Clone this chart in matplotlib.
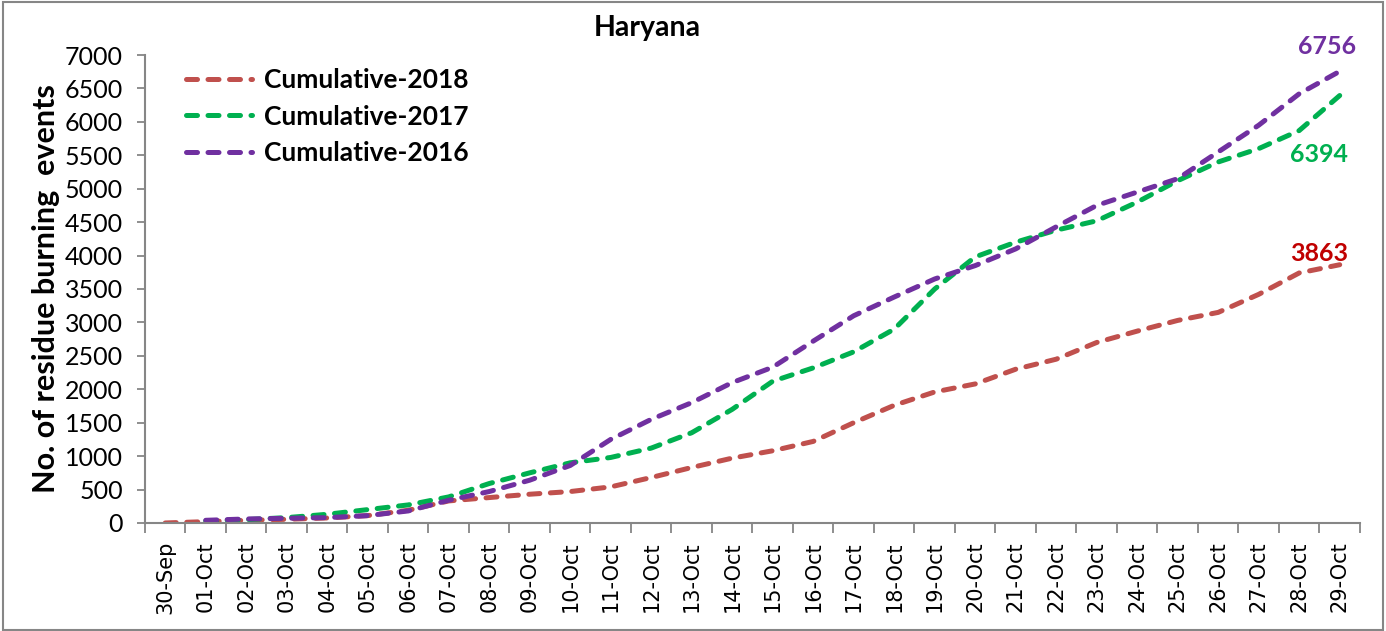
import numpy as np
import matplotlib.pyplot as plt
from matplotlib.patches import Rectangle

days = ['30-Sep'] + ['%02d-Oct' % d for d in range(1, 30)]

# cumulative residue burning events
cum_2018 = [0, 20, 40, 55, 75, 110, 190, 330, 380, 430, 470, 540, 680, 830, 970,
            1080, 1220, 1500, 1760, 1960, 2080, 2300, 2450, 2700, 2870, 3030, 3150,
            3420, 3740, 3863]
cum_2017 = [np.nan, 30, 50, 80, 130, 200, 270, 390, 590, 750, 900, 980, 1120, 1350,
            1700, 2120, 2320, 2560, 2900, 3500, 3980, 4200, 4380, 4520, 4800, 5120,
            5400, 5600, 5870, 6394]
cum_2016 = [np.nan, 40, 60, 70, 80, 110, 180, 340, 470, 640, 860, 1250, 1550, 1800,
            2100, 2330, 2720, 3100, 3380, 3650, 3850, 4100, 4430, 4750, 4950, 5150,
            5550, 5950, 6420, 6756]

c18, c17, c16 = '#C0504D', '#00B050', '#7030A0'

fig = plt.figure(figsize=(13.86, 6.31), dpi=100)
ax = fig.add_axes([0.1046, 0.1712, 0.8766, 0.7416])

x = np.arange(len(days))
dash = dict(linewidth=3.6, dashes=(2.2, 2.1), dash_capstyle='round', solid_capstyle='round')
ax.plot(x, cum_2018, color=c18, label='Cumulative-2018', **dash)
ax.plot(x, cum_2017, color=c17, label='Cumulative-2017', **dash)
ax.plot(x, cum_2016, color=c16, label='Cumulative-2016', **dash)

ax.set_xlim(-0.5, len(days) - 0.5)
ax.set_ylim(0, 7000)
ax.set_yticks(np.arange(0, 7001, 500))
ax.set_xticks(x)
ax.set_xticklabels(days, rotation=90, fontsize=15, family='DejaVu Sans')
ax.set_xticks(np.arange(-0.5, len(days)), minor=True)
ax.tick_params(axis='x', which='major', length=0, pad=13)
ax.tick_params(axis='x', which='minor', length=7, color='#868686', width=1.3)
ax.tick_params(axis='y', length=6, color='#868686', width=1.3, pad=10)
for lab in ax.get_yticklabels():
    lab.set_fontfamily('Lato')
    lab.set_fontsize(18)

for s in ['top', 'right']:
    ax.spines[s].set_visible(False)
for s in ['left', 'bottom']:
    ax.spines[s].set_color('#868686')
    ax.spines[s].set_linewidth(1.5)

ax.set_ylabel('No. of residue burning  events', fontsize=22, fontweight='bold',
              family='Lato', labelpad=3)

fig.text(0.467, 0.955, 'Haryana', ha='center', va='center', fontsize=20.5,
         fontweight='bold', family='Lato')

ax.text(x[-1] + 0.4, cum_2016[-1] + 370, '6756', color=c16, ha='right', va='center',
        fontsize=18, fontweight='bold', family='Lato')
ax.text(x[-1] + 0.2, cum_2017[-1] - 880, '6394', color=c17, ha='right', va='center',
        fontsize=18, fontweight='bold', family='Lato')
ax.text(x[-1] + 0.2, cum_2018[-1] + 170, '3863', color='#C00000', ha='right',
        va='center', fontsize=18, fontweight='bold', family='Lato')

leg = ax.legend(loc='upper left', bbox_to_anchor=(0.014, 1.023), frameon=False,
                handlelength=2.5, handletextpad=0.45, labelspacing=0.48,
                prop={'family': 'Lato', 'weight': 'bold', 'size': 19})

fig.patches.append(Rectangle((0.002, 0.002), 0.996, 0.995, transform=fig.transFigure,
                             fill=False, edgecolor='#868686', linewidth=1.5))

plt.savefig('out.png', dpi=100)
